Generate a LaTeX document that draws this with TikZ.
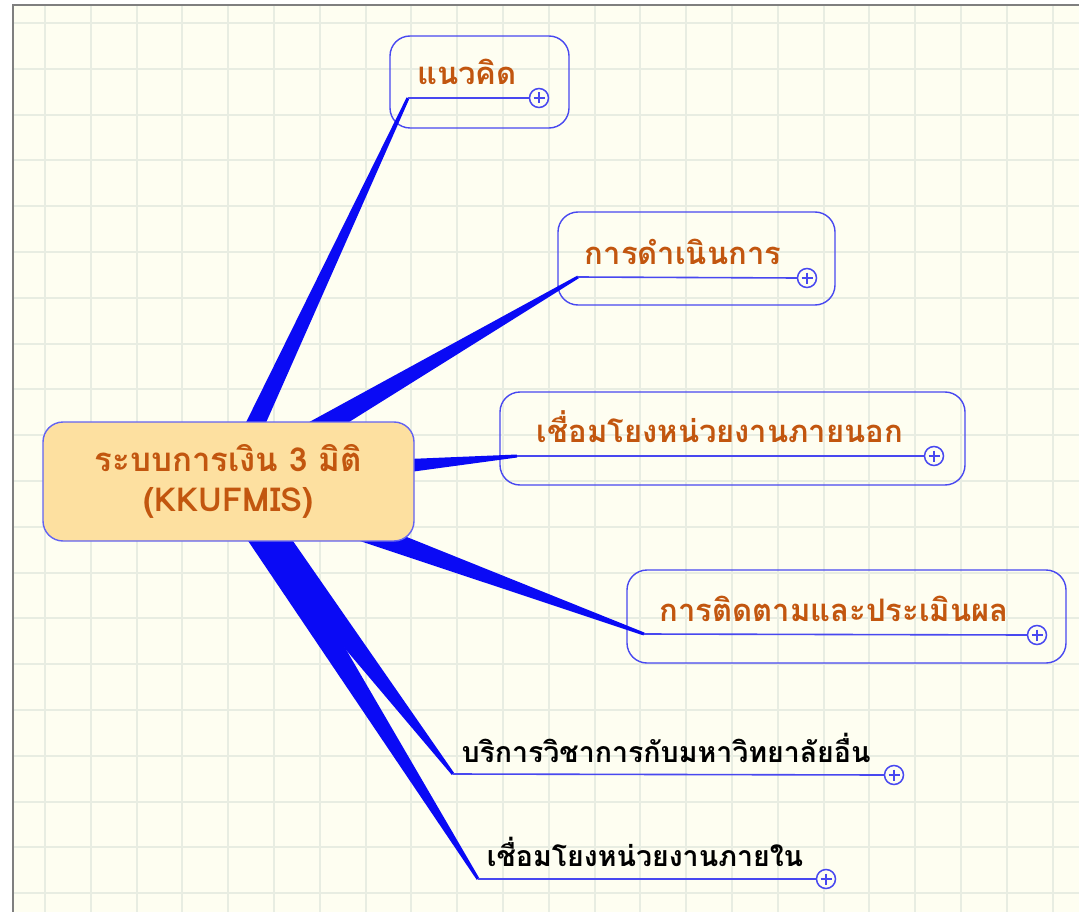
\documentclass[tikz,border=0pt]{standalone}
\usepackage{fontspec}
\newfontfamily\thaifont[Script=Thai]{Loma}
\usetikzlibrary{calc}
\definecolor{bgc}{HTML}{FEFEF1}
\definecolor{gridc}{HTML}{E8EDE2}
\definecolor{framec}{HTML}{7F7F7F}
\definecolor{wedgec}{HTML}{0A0AF5}
\definecolor{boxc}{HTML}{4848F0}
\definecolor{mainfill}{HTML}{FDE0A0}
\definecolor{txtc}{HTML}{C2560F}
\tikzset{
  branchbox/.style={draw=boxc, line width=1.4pt, rounded corners=20pt, rectangle, inner sep=0pt},
  maintxt/.style={font=\thaifont\bfseries\fontsize{33}{40}\selectfont, text=txtc, align=center},
  branchtxt/.style={font=\thaifont\bfseries\fontsize{31}{34}\selectfont, text=txtc, inner sep=0pt, anchor=base},
  blacktxt/.style={font=\thaifont\bfseries\fontsize{28.5}{32}\selectfont, text=black, inner sep=0pt, anchor=base},
  uline/.style={draw=boxc, line width=1.6pt},
  plusnode/.style={circle, draw=boxc, line width=1.5pt, fill=bgc, minimum size=19pt, inner sep=0pt,
    path picture={\draw[boxc, line width=1.5pt] ($(path picture bounding box.center)+(-5.5,0)$) -- ($(path picture bounding box.center)+(5.5,0)$)
      ($(path picture bounding box.center)+(0,-5.5)$) -- ($(path picture bounding box.center)+(0,5.5)$);}},
}
\newcommand\taperline[3]{%
  \fill[wedgec] ($(#1)!#3!90:(#2)$) -- ($(#2)!1.5pt!-90:(#1)$) -- ($(#2)!1.5pt!90:(#1)$) -- ($(#1)!#3!-90:(#2)$) -- cycle;}
\begin{document}
\begin{tikzpicture}[x=1pt,y=-1pt]
\useasboundingbox (0,0) rectangle (1079,912);
\fill[white] (0,0) rectangle (1079,912);
\fill[bgc] (13,5) rectangle (1079,912);
\foreach \i in {0,...,22} \draw[gridc, line width=2pt] ({45+45.8*\i},5) -- ({45+45.8*\i},912);
\foreach \j in {0,...,19} \draw[gridc, line width=2pt] (13,{23+45.8*\j}) -- (1079,{23+45.8*\j});
\draw[framec, line width=2pt] (13,912) -- (13,5) -- (1079,5);

% branch boxes
\node[branchbox, minimum width=179pt, minimum height=92pt] (b1) at (479.5,82) {};
\node[branchbox, minimum width=277pt, minimum height=93pt] (b2) at (696.5,258.5) {};
\node[branchbox, minimum width=465pt, minimum height=93pt] (b3) at (732.5,438.5) {};
\node[branchbox, minimum width=439pt, minimum height=93pt] (b4) at (846.5,616.5) {};

% anchor points of the branches
\coordinate (cc) at (228.5,481.5);
\coordinate (s1) at (408,98);
\coordinate (s2) at (578,277);
\coordinate (s3) at (517,456);
\coordinate (s4) at (644,634);
\coordinate (s5) at (453,774);
\coordinate (s6) at (478,879);

% tapered connectors
\taperline{cc}{s1}{10.5pt}
\taperline{cc}{s2}{13.5pt}
\taperline{cc}{s3}{15pt}
\taperline{cc}{s4}{15pt}
\taperline{cc}{s5}{19pt}
\taperline{cc}{s6}{17pt}

% central node
\node[draw=boxc!85!white, line width=1.4pt, fill=mainfill, rounded corners=20pt, minimum width=371pt, minimum height=119pt, maintxt] (main) at (cc) {ระบบการเงิน 3 มิติ\\(KKUFMIS)};

% texts
\node[branchtxt] (t1) at (467,85) {แนวคิด};
\node[branchtxt] (t2) at (683,265) {การดำเนินการ};
\node[branchtxt] (t3) at (720,442) {เชื่อมโยงหน่วยงานภายนอก};
\node[branchtxt] (t4) at (834,621) {การติดตามและประเมินผล};
\node[blacktxt] (t5) at (666,762) {บริการวิชาการกับมหาวิทยาลัยอื่น};
\node[blacktxt] (t6) at (645,866) {เชื่อมโยงหน่วยงานภายใน};

% plus circles
\node[plusnode] (p1) at (539,98) {};
\node[plusnode] (p2) at (807,278) {};
\node[plusnode] (p3) at (934,456) {};
\node[plusnode] (p4) at (1037,635) {};
\node[plusnode] (p5) at (894,775) {};
\node[plusnode] (p6) at (826,879) {};

% underlines
\draw[uline] (s1) -- (p1.west);
\draw[uline] (s2) -- (p2.west);
\draw[uline] (s3) -- (p3.west);
\draw[uline] (s4) -- (p4.west);
\draw[uline] (s5) -- (p5.west);
\draw[uline] (s6) -- (p6.west);
\end{tikzpicture}
\end{document}
